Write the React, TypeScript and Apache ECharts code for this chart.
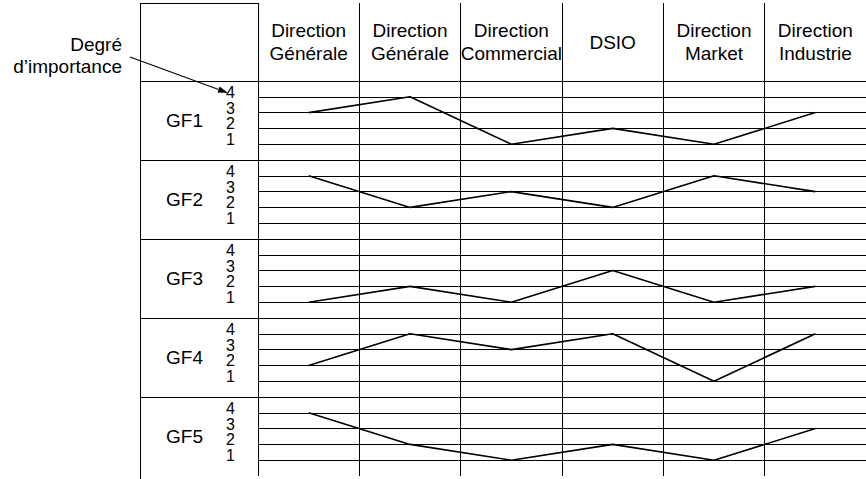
import React, { useEffect, useRef } from 'react';
import * as echarts from 'echarts';

// ---- data ----
const columns = [
  'Direction\nGénérale',
  'Direction\nGénérale',
  'Direction\nCommercial',
  'DSIO',
  'Direction\nMarket',
  'Direction\nIndustrie',
];
const rowLabels = ['GF1', 'GF2', 'GF3', 'GF4', 'GF5'];
const importanceTicks = [1, 2, 3, 4];
const gf1 = [3, 4, 1, 2, 1, 3];
const gf2 = [4, 2, 3, 2, 4, 3];
const gf3 = [1, 2, 1, 3, 1, 2];
const gf4 = [2, 4, 3, 4, 1, 4];
const gf5 = [4, 2, 1, 2, 1, 3];
const rows = [gf1, gf2, gf3, gf4, gf5];
const axisTitle = 'Degré\nd’importance';

// ---- layout ----
const W = 866;
const H = 479;
const TABLE_LEFT = 140;
const TABLE_TOP = 3;
const HEADER_H = 78;
const ROW_H = 79;
const PLOT_LEFT = 258;
const COL_W = 104.8;
const FONT = "'Liberation Sans', Arial, Helvetica, sans-serif";
const FS = 19;
const TICK_FS = 16;

export default function App() {
  const ref = useRef<HTMLDivElement>(null);

  useEffect(() => {
    if (!ref.current) return;
    const chart = echarts.init(ref.current, undefined, { renderer: 'svg' });

    const grids: any[] = [
      { left: PLOT_LEFT, top: TABLE_TOP, width: COL_W * columns.length, height: HEADER_H },
    ];
    const xAxes: any[] = [
      {
        gridIndex: 0,
        type: 'category',
        data: columns,
        position: 'top',
        boundaryGap: true,
        axisLine: { show: true, lineStyle: { color: '#000', width: 1 } },
        axisTick: { show: false },
        splitLine: { show: true, lineStyle: { color: '#000', width: 1 } },
        axisLabel: {
          inside: true,
          margin: 39,
          verticalAlign: 'middle',
          interval: 0,
          fontSize: FS,
          lineHeight: 23,
          color: '#000',
          fontFamily: FONT,
        },
      },
    ];
    const yAxes: any[] = [{ gridIndex: 0, type: 'value', show: false }];
    const series: any[] = [];

    rows.forEach((vals, i) => {
      const g = i + 1;
      grids.push({
        left: PLOT_LEFT,
        top: TABLE_TOP + HEADER_H + i * ROW_H,
        width: COL_W * columns.length,
        height: ROW_H,
      });
      xAxes.push({
        gridIndex: g,
        type: 'category',
        data: columns,
        boundaryGap: true,
        axisLine: { show: false },
        axisTick: { show: false },
        axisLabel: { show: false },
        splitLine: { show: true, lineStyle: { color: '#000', width: 1 } },
      });
      yAxes.push({
        gridIndex: g,
        type: 'value',
        min: 0,
        max: 5,
        interval: 1,
        name: rowLabels[i],
        nameLocation: 'middle',
        nameRotate: 0,
        nameGap: 55,
        nameTextStyle: { fontSize: FS, color: '#000', fontFamily: FONT },
        axisLine: { show: false },
        axisTick: { show: false },
        axisLabel: {
          margin: 23,
          fontSize: TICK_FS,
          color: '#000',
          fontFamily: FONT,
          verticalAlign: 'bottom',
          lineHeight: 9,
          formatter: (v: number) => (importanceTicks.includes(v) ? String(v) : ''),
        },
        splitLine: {
          show: true,
          showMinLine: i !== rows.length - 1,
          lineStyle: { color: '#000', width: 1 },
        },
      });
      series.push({
        type: 'line',
        xAxisIndex: g,
        yAxisIndex: g,
        data: vals,
        symbol: 'none',
        silent: true,
        lineStyle: { color: '#000', width: 1.6 },
      });
    });

    // table decorations in the label column
    const graphic: any[] = [];
    graphic.push({
      type: 'line',
      shape: { x1: TABLE_LEFT + 0.5, y1: TABLE_TOP, x2: TABLE_LEFT + 0.5, y2: H + 5 },
      style: { stroke: '#000', lineWidth: 1 },
    });
    const seps = [TABLE_TOP, TABLE_TOP + HEADER_H];
    for (let i = 1; i < rows.length; i++) seps.push(TABLE_TOP + HEADER_H + i * ROW_H);
    seps.forEach((y) => {
      graphic.push({
        type: 'line',
        shape: { x1: TABLE_LEFT, y1: Math.round(y) + 0.5, x2: PLOT_LEFT, y2: Math.round(y) + 0.5 },
        style: { stroke: '#000', lineWidth: 1 },
      });
    });
    graphic.push({
      type: 'text',
      x: 122,
      y: 55,
      style: {
        text: axisTitle,
        align: 'right',
        verticalAlign: 'middle',
        textAlign: 'right',
        textVerticalAlign: 'middle',
        fontSize: FS,
        fontFamily: FONT,
        lineHeight: 22,
        fill: '#000',
      },
    });
    // arrow
    const ax1 = 130, ay1 = 57, ax2 = 228, ay2 = 93;
    const dx = ax2 - ax1, dy = ay2 - ay1;
    const len = Math.sqrt(dx * dx + dy * dy);
    const ux = dx / len, uy = dy / len;
    const bx = ax2 - 10 * ux, by = ay2 - 10 * uy;
    const px = -uy * 3.2, py = ux * 3.2;
    graphic.push({
      type: 'line',
      shape: { x1: ax1, y1: ay1, x2: bx, y2: by },
      style: { stroke: '#000', lineWidth: 1.1 },
    });
    graphic.push({
      type: 'polygon',
      shape: { points: [[ax2, ay2], [bx + px, by + py], [bx - px, by - py]] },
      style: { fill: '#000' },
    });

    chart.setOption({
      animation: false,
      backgroundColor: '#fff',
      textStyle: { fontFamily: FONT },
      grid: grids,
      xAxis: xAxes,
      yAxis: yAxes,
      series,
      graphic,
    });

    return () => chart.dispose();
  }, []);

  return (
    <div
      ref={ref}
      style={{ position: 'fixed', left: 0, top: 0, width: W, height: H, overflow: 'hidden' }}
    />
  );
}
